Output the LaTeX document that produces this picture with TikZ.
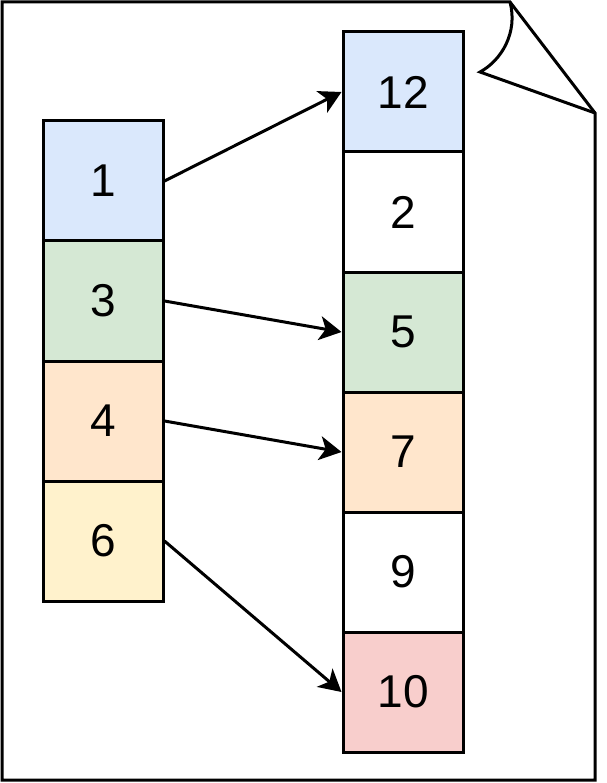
\documentclass[tikz,border=0pt]{standalone}
\usepackage{fontspec}
\setmainfont{Liberation Sans}
\usetikzlibrary{arrows.meta}
\definecolor{cblue}{HTML}{DAE8FC}
\definecolor{cgreen}{HTML}{D5E8D4}
\definecolor{corange}{HTML}{FFE6CC}
\definecolor{cyellow}{HTML}{FFF2CC}
\definecolor{cred}{HTML}{F8CECC}
\begin{document}
\begin{tikzpicture}[x=1pt,y=-1pt,line width=3pt,
  cell/.style={draw=black,line width=3pt,minimum width=120pt,minimum height=120pt,inner sep=0pt,font=\fontsize{46}{54}\selectfont},
  arr/.style={-{Stealth[length=22pt,width=24pt,inset=6pt]},line width=3pt}]
\useasboundingbox (0,0) rectangle (606,783);
% page with folded corner
\draw[line join=miter] (2,2) -- (510,2) -- (595,113) -- (595,780) -- (2,780) -- cycle;
\draw (510,2) .. controls (518,32) and (502,60) .. (480,72) -- (595,113);
% left column
\node[cell,fill=cblue] (l1) at (103,181) {1};
\node[cell,fill=cgreen] (l3) at (103,301) {3};
\node[cell,fill=corange] (l4) at (103,421) {4};
\node[cell,fill=cyellow] (l6) at (103,541) {6};
% right column
\node[cell,fill=cblue] (r12) at (403,92) {12};
\node[cell,fill=white] (r2) at (403,212) {2};
\node[cell,fill=cgreen] (r5) at (403,332) {5};
\node[cell,fill=corange] (r7) at (403,452) {7};
\node[cell,fill=white] (r9) at (403,572) {9};
\node[cell,fill=cred] (r10) at (403,692) {10};
% arrows
\draw[arr] (l1.east) -- (r12.west);
\draw[arr] (l3.east) -- (r5.west);
\draw[arr] (l4.east) -- (r7.west);
\draw[arr] (l6.east) -- (r10.west);
\end{tikzpicture}
\end{document}
